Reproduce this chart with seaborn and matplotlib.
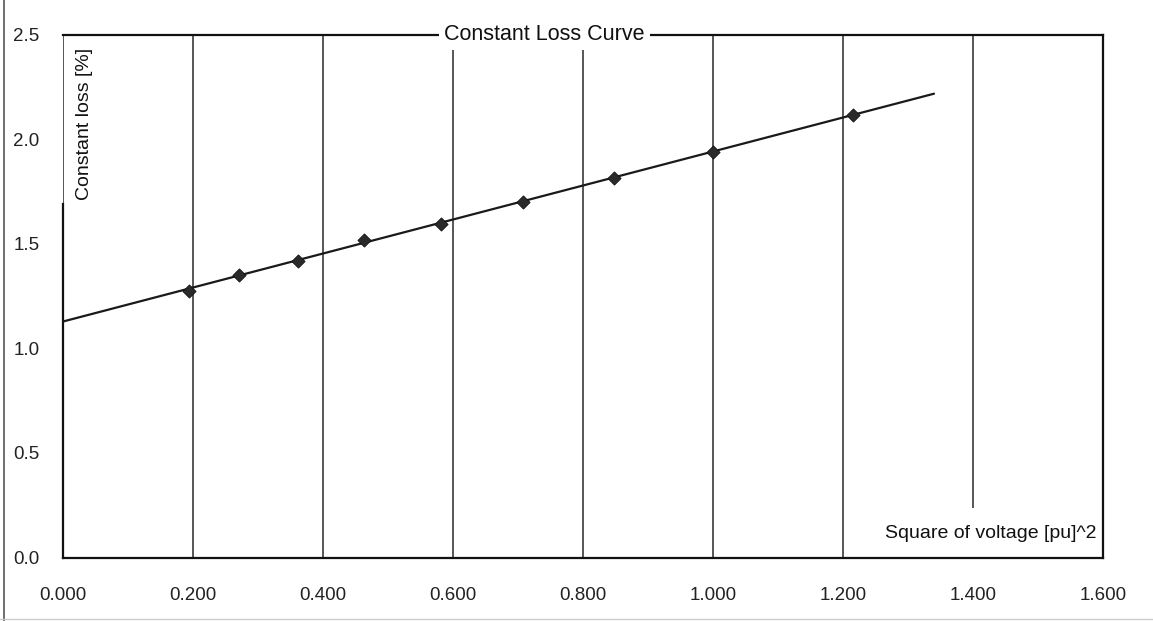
import numpy as np
import pandas as pd
import matplotlib
matplotlib.use("Agg")
import matplotlib.pyplot as plt
from matplotlib.lines import Line2D
import seaborn as sns

# ---- data ----
v2 = [0.194, 0.271, 0.361, 0.463, 0.582, 0.707, 0.848, 1.000, 1.215]
loss = [1.276, 1.349, 1.418, 1.516, 1.592, 1.698, 1.814, 1.939, 2.115]
trend_x = [0.0, 1.34]
trend_y = [1.128, 2.217]
xticks = [0.0, 0.2, 0.4, 0.6, 0.8, 1.0, 1.2, 1.4, 1.6]
xtick_labels = ["0.000", "0.200", "0.400", "0.600", "0.800", "1.000", "1.200", "1.400", "1.600"]
yticks = [0.0, 0.5, 1.0, 1.5, 2.0, 2.5]
ytick_labels = ["0.0", "0.5", "1.0", "1.5", "2.0", "2.5"]
title = "Constant Loss Curve"
xlabel = "Square of voltage [pu]^2"
ylabel = "Constant loss [%]"

sns.set_style("white")
plt.rcParams['font.family'] = ['Liberation Sans', 'DejaVu Sans']

df = pd.DataFrame({"v2": v2, "loss": loss})
tr = pd.DataFrame({"x": trend_x, "y": trend_y})

fig = plt.figure(figsize=(11.53, 6.21), dpi=100)
ax = fig.add_axes([63/1153, 1 - 557.5/621, 1040/1153, 523/621])

sns.lineplot(data=tr, x="x", y="y", ax=ax, color="#1a1a1a", lw=1.6, zorder=3)
sns.scatterplot(data=df, x="v2", y="loss", ax=ax, marker="D", s=45,
                color="#2a2a2a", edgecolor="#111111", linewidth=0.6, zorder=4)

ax.set_xlim(0, 1.6)
ax.set_ylim(0, 2.5)
ax.set_xticks(xticks)
ax.set_xticklabels(xtick_labels)
ax.set_yticks(yticks)
ax.set_yticklabels(ytick_labels)
ax.tick_params(axis="x", length=0, pad=21, labelsize=13.5, labelcolor="#222222")
ax.tick_params(axis="y", length=0, pad=17, labelsize=13.5, labelcolor="#222222")
ax.set_xlabel("")
ax.set_ylabel("")

ax.xaxis.grid(True, color="#3a3a3a", lw=1.2)
ax.yaxis.grid(False)
ax.set_axisbelow(True)

for s in ax.spines.values():
    s.set_color("#111111")
    s.set_linewidth(1.6)
ax.spines["right"].set_zorder(6)
ax.spines["bottom"].set_zorder(6)
ax.spines["left"].set_bounds(0, 1.69)

# title breaking the top frame line
ax.text(0.463, 1.0, title, transform=ax.transAxes, ha="center", va="center",
        fontsize=15.5, color="#111111", zorder=5,
        bbox=dict(boxstyle="square,pad=0.25", fc="white", ec="none"))

# y label inside the plot
ax.text(0.021, 0.975, ylabel, transform=ax.transAxes, rotation=90,
        ha="center", va="top", fontsize=14, color="#111111", zorder=5)

# x label inside bottom-right, white box hiding grid line end
ax.text(0.994, 0.045, xlabel, transform=ax.transAxes, ha="right", va="center",
        fontsize=14, color="#111111", zorder=5,
        bbox=dict(boxstyle="square,pad=0.9", fc="white", ec="none"))

# scanned page edge
fig.add_artist(Line2D([0.0035, 0.0035], [0, 1], color="#555555", lw=1.2))
fig.add_artist(Line2D([0.0, 1.0], [0.004, 0.004], color="#cccccc", lw=1.0))

fig.savefig("out.png", dpi=100)
